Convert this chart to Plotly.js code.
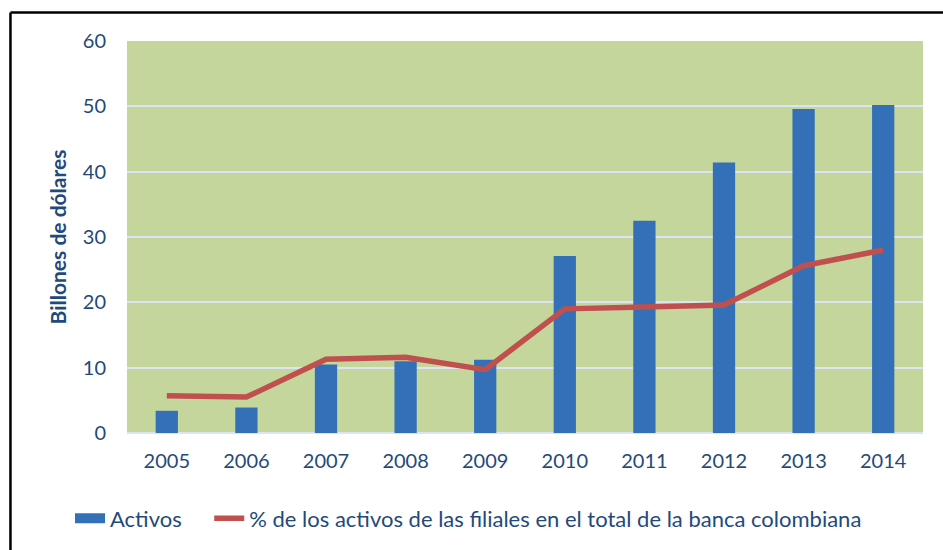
<!DOCTYPE html>
<html><head><meta charset="utf-8">
<script src="https://cdn.plot.ly/plotly-3.0.1.min.js"></script>
<style>body{margin:0;background:#fff}#c{width:943px;height:550px}</style>
</head><body><div id="c"></div>
<script>
const years = ['2005','2006','2007','2008','2009','2010','2011','2012','2013','2014'];
const activos = [3.4, 3.9, 10.5, 11.0, 11.2, 27.1, 32.5, 41.4, 49.6, 50.2];
const participacion = [5.7, 5.5, 11.3, 11.6, 9.7, 19.0, 19.3, 19.6, 25.6, 28.0];
const barName = 'Activos';
const lineName = '% de los activos de las filiales en el total de la banca colombiana';
const yTitle = 'Billones de dólares';

const txt = '#1f4a7c';
const fam = 'Lato, "Open Sans", sans-serif';
const barColor = '#3470b7';
const pad = '\u00a0\u00a0\u00a0\u00a0';

const traces = [
  {type: 'bar', x: years, y: activos, name: barName, showlegend: false,
   marker: {color: barColor, line: {width: 0}}},
  // legend key for the bars (wide rectangle like the original)
  {type: 'scatter', mode: 'lines', x: [null], y: [null], name: barName + pad,
   line: {color: barColor, width: 13}, hoverinfo: 'skip'},
  {type: 'scatter', mode: 'lines', x: years, y: participacion, name: lineName,
   line: {color: '#c0504d', width: 5.5}}
];

const layout = {
  width: 943, height: 550,
  margin: {l: 127, r: 20, t: 41, b: 116},
  paper_bgcolor: '#ffffff', plot_bgcolor: '#c4d69c',
  font: {family: fam, size: 20, color: txt},
  bargap: 0.72,
  showlegend: true,
  legend: {orientation: 'h', x: -0.0716, xanchor: 'left', y: -0.215, yanchor: 'middle',
           font: {family: fam, size: 22, color: txt}, itemwidth: 30, tracegroupgap: 0},
  xaxis: {type: 'category', showgrid: false, zeroline: false, showline: false,
          ticks: '', ticklabelstandoff: 14, tickfont: {size: 20, color: txt}},
  yaxis: {range: [0, 60], dtick: 10, showgrid: true, gridcolor: '#dbe5f1', gridwidth: 2,
          zeroline: true, zerolinecolor: '#dbe5f1', zerolinewidth: 2, showline: false,
          ticks: '', ticklabelstandoff: 20, tickfont: {size: 20, color: txt},
          title: {text: yTitle, font: {family: fam, size: 21, color: txt, weight: 'bold'}, standoff: 10}},
  shapes: [
    {type: 'line', xref: 'paper', yref: 'paper', x0: -0.1464, x1: 1.03, y0: 1.0725, y1: 1.0725,
     line: {color: '#000', width: 2.5}},
    {type: 'line', xref: 'paper', yref: 'paper', x0: -0.1464, x1: -0.1464, y0: 1.0725, y1: -0.31,
     line: {color: '#000', width: 2.5}}
  ]
};

Plotly.newPlot('c', traces, layout, {displayModeBar: false, staticPlot: true});
</script></body></html>
